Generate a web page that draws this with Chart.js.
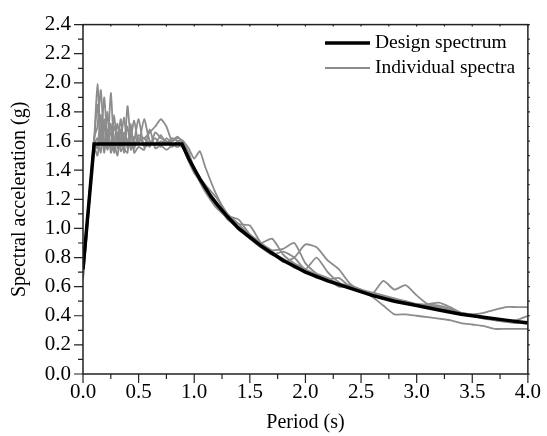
<!DOCTYPE html>
<html>
<head>
<meta charset="utf-8">
<script src="https://cdn.jsdelivr.net/npm/chart.js@4"></script>
<style>
  html, body { margin: 0; padding: 0; background: #fff; }
  #wrap { width: 547px; height: 436px; }
</style>
</head>
<body>
<div id="wrap"><canvas id="chartSpectra"></canvas></div>
<script>
// periods (s) shared by the individual spectra
const periods = [0, 0.03, 0.06, 0.1, 0.13, 0.16, 0.19, 0.22, 0.25, 0.28, 0.31, 0.34, 0.37, 0.4, 0.43, 0.46,
  0.5, 0.55, 0.6, 0.65, 0.7, 0.75, 0.8, 0.85, 0.9, 0.95, 1.0, 1.05, 1.1,
  1.2, 1.3, 1.4, 1.5, 1.6, 1.7, 1.8, 1.9, 2.0, 2.1, 2.2, 2.3, 2.4, 2.5, 2.6, 2.7, 2.8, 2.9,
  3.0, 3.1, 3.2, 3.3, 3.4, 3.5, 3.6, 3.7, 3.8, 3.9, 4.0];

const spectrum1 = [0.65, 0.92, 1.20, 1.60, 1.99, 1.62, 1.70, 1.58, 1.66, 1.60, 1.72, 1.56, 1.63, 1.58, 1.66, 1.57,
  1.62, 1.58, 1.60, 1.57, 1.60, 1.58, 1.62, 1.60, 1.56, 1.47, 1.40, 1.33, 1.27,
  1.18, 1.06, 1.01, 0.93, 0.89, 0.82, 0.79, 0.73, 0.71, 0.66, 0.65, 0.60, 0.60, 0.57, 0.53, 0.47, 0.41, 0.41,
  0.40, 0.39, 0.38, 0.37, 0.35, 0.34, 0.33, 0.31, 0.31, 0.31, 0.31];
const spectrum2 = [0.68, 0.95, 1.22, 1.62, 1.70, 1.95, 1.60, 1.55, 1.93, 1.58, 1.60, 1.75, 1.52, 1.84, 1.60, 1.55,
  1.64, 1.62, 1.66, 1.70, 1.75, 1.70, 1.60, 1.62, 1.60, 1.55, 1.48, 1.53, 1.42,
  1.23, 1.10, 1.03, 0.95, 0.90, 0.93, 0.82, 0.76, 0.72, 0.68, 0.64, 0.62, 0.59, 0.57, 0.55, 0.53, 0.51, 0.49,
  0.48, 0.47, 0.46, 0.44, 0.42, 0.41, 0.39, 0.38, 0.37, 0.36, 0.36];
const spectrum3 = [0.70, 0.98, 1.25, 1.58, 1.55, 1.78, 1.52, 1.68, 1.55, 1.78, 1.55, 1.62, 1.76, 1.55, 1.62, 1.74,
  1.58, 1.75, 1.60, 1.58, 1.64, 1.58, 1.60, 1.63, 1.58, 1.50, 1.42, 1.35, 1.30,
  1.21, 1.09, 1.06, 0.96, 0.90, 0.85, 0.86, 0.90, 0.76, 0.69, 0.66, 0.62, 0.61, 0.58, 0.56, 0.54, 0.52, 0.50,
  0.48, 0.48, 0.49, 0.46, 0.42, 0.40, 0.38, 0.37, 0.36, 0.37, 0.40];
const spectrum4 = [0.72, 1.00, 1.27, 1.56, 1.50, 1.65, 1.55, 1.80, 1.52, 1.58, 1.50, 1.68, 1.55, 1.52, 1.72, 1.52,
  1.56, 1.54, 1.68, 1.55, 1.57, 1.54, 1.57, 1.58, 1.55, 1.46, 1.38, 1.33, 1.26,
  1.15, 1.07, 0.99, 0.93, 0.87, 0.84, 0.77, 0.80, 0.89, 0.87, 0.78, 0.72, 0.62, 0.57, 0.55, 0.52, 0.50, 0.49,
  0.48, 0.47, 0.45, 0.44, 0.41, 0.40, 0.39, 0.37, 0.36, 0.36, 0.35];
const spectrum5 = [0.66, 0.93, 1.21, 1.60, 1.85, 1.58, 1.90, 1.62, 1.56, 1.70, 1.62, 1.58, 1.66, 1.60, 1.56, 1.63,
  1.60, 1.62, 1.56, 1.66, 1.62, 1.60, 1.56, 1.60, 1.60, 1.49, 1.39, 1.32, 1.25,
  1.14, 1.07, 1.00, 0.93, 0.87, 0.82, 0.84, 0.80, 0.72, 0.80, 0.70, 0.63, 0.59, 0.57, 0.55, 0.64, 0.58, 0.61,
  0.54, 0.48, 0.47, 0.45, 0.42, 0.40, 0.39, 0.38, 0.36, 0.35, 0.36];
const spectrum6 = [0.69, 0.96, 1.23, 1.57, 1.62, 1.52, 1.75, 1.54, 1.72, 1.52, 1.66, 1.53, 1.58, 1.70, 1.54, 1.60,
  1.75, 1.56, 1.58, 1.62, 1.56, 1.62, 1.58, 1.56, 1.58, 1.52, 1.41, 1.35, 1.29,
  1.16, 1.09, 1.03, 1.02, 0.90, 0.84, 0.79, 0.75, 0.71, 0.68, 0.65, 0.66, 0.60, 0.58, 0.54, 0.53, 0.51, 0.50,
  0.47, 0.46, 0.45, 0.44, 0.42, 0.41, 0.42, 0.44, 0.46, 0.46, 0.46];

// design spectrum
const designPeriods = [0, 0.1, 0.89, 0.95, 1.0, 1.05, 1.1, 1.15, 1.2, 1.3, 1.4, 1.5, 1.6, 1.7, 1.8, 1.9, 2.0,
  2.2, 2.4, 2.6, 2.8, 3.0, 3.2, 3.4, 3.6, 3.8, 4.0];
const designSa = [0.72, 1.58, 1.58, 1.48, 1.41, 1.34, 1.28, 1.22, 1.17, 1.08, 1.00, 0.94, 0.88, 0.83, 0.78, 0.74, 0.70,
  0.64, 0.59, 0.54, 0.50, 0.47, 0.44, 0.41, 0.39, 0.37, 0.35];

const xTicks = [0, 0.5, 1.0, 1.5, 2.0, 2.5, 3.0, 3.5, 4.0];
const yTicks = [0, 0.2, 0.4, 0.6, 0.8, 1.0, 1.2, 1.4, 1.6, 1.8, 2.0, 2.2, 2.4];

const FONT = "'Liberation Serif', 'Times New Roman', serif";
const GREY = '#8c8c8c';

Chart.defaults.font.family = FONT;
Chart.defaults.font.size = 20;
Chart.defaults.color = '#000';

const toPoints = (xs, ys) => xs.map((x, i) => ({ x: x, y: ys[i] }));

const individual = [spectrum1, spectrum2, spectrum3, spectrum4, spectrum5, spectrum6].map((s, i) => ({
  label: i === 0 ? 'Individual spectra' : '',
  data: toPoints(periods, s),
  borderColor: GREY,
  borderWidth: 1.8,
  pointRadius: 0,
  tension: 0.2
}));

// frame, minor ticks and legend drawn by hand
const framePlugin = {
  id: 'frame',
  afterDraw(chart) {
    const { ctx, chartArea: a, scales: { x, y } } = chart;
    ctx.save();
    ctx.strokeStyle = '#222';
    ctx.lineWidth = 1.5;
    ctx.strokeRect(a.left, a.top, a.right - a.left, a.bottom - a.top);
    ctx.lineWidth = 1.2;
    ctx.beginPath();
    for (let i = 0; i <= 16; i++) {
      const px = x.getPixelForValue(i * 0.25);
      const len = i % 2 === 0 ? 9 : 5;
      ctx.moveTo(px, a.bottom); ctx.lineTo(px, a.bottom + len);
      ctx.moveTo(px, a.top); ctx.lineTo(px, a.top + 2);
    }
    for (let i = 0; i <= 24; i++) {
      const py = y.getPixelForValue(i * 0.1);
      const len = i % 2 === 0 ? 9 : 5;
      ctx.moveTo(a.left, py); ctx.lineTo(a.left - len, py);
      ctx.moveTo(a.right, py); ctx.lineTo(a.right + 2, py);
    }
    ctx.stroke();

    // legend
    const items = [chart.data.datasets[0], chart.data.datasets[1]];
    ctx.font = '19.5px ' + FONT;
    ctx.textBaseline = 'middle';
    ctx.fillStyle = '#000';
    items.forEach((ds, i) => {
      const ly = 43 + i * 25;
      ctx.strokeStyle = ds.borderColor;
      ctx.lineWidth = ds.borderWidth;
      ctx.beginPath();
      ctx.moveTo(325, ly); ctx.lineTo(370, ly);
      ctx.stroke();
      ctx.fillText(ds.label, 375, ly);
    });
    ctx.restore();
  }
};

const ctx = document.getElementById('chartSpectra').getContext('2d');
new Chart(ctx, {
  type: 'line',
  data: {
    datasets: [
      {
        label: 'Design spectrum',
        data: toPoints(designPeriods, designSa),
        borderColor: '#000',
        borderWidth: 3.5,
        pointRadius: 0,
        tension: 0
      },
      ...individual
    ]
  },
  options: {
    responsive: true,
    maintainAspectRatio: false,
    animation: false,
    layout: { padding: { top: 15, right: 12, left: 0, bottom: 0 } },
    plugins: { legend: { display: false }, tooltip: { enabled: false } },
    scales: {
      x: {
        type: 'linear',
        min: 0,
        max: 4,
        afterBuildTicks: s => { s.ticks = xTicks.map(v => ({ value: v })); },
        afterFit: s => { s.height = 62; },
        grid: { display: false, drawTicks: false },
        border: { display: false },
        ticks: {
          autoSkip: false, maxRotation: 0, padding: 6,
          color: '#000', font: { family: FONT, size: 21 },
          callback: v => v.toFixed(1)
        },
        title: {
          display: true, text: 'Period (s)', color: '#000',
          font: { family: FONT, size: 20 }, padding: { top: 0, bottom: 1 }
        }
      },
      y: {
        min: 0,
        max: 2.4,
        afterBuildTicks: s => { s.ticks = yTicks.map(v => ({ value: v })); },
        afterFit: s => { s.width = 83; },
        grid: { display: false, drawTicks: false },
        border: { display: false },
        ticks: {
          autoSkip: false, padding: 12,
          color: '#000', font: { family: FONT, size: 21 },
          callback: v => v.toFixed(1)
        },
        title: {
          display: true, text: 'Spectral acceleration (g)', color: '#000',
          font: { family: FONT, size: 20 }, padding: { top: 8, bottom: 0 }
        }
      }
    }
  },
  plugins: [framePlugin]
});
</script>
</body>
</html>
